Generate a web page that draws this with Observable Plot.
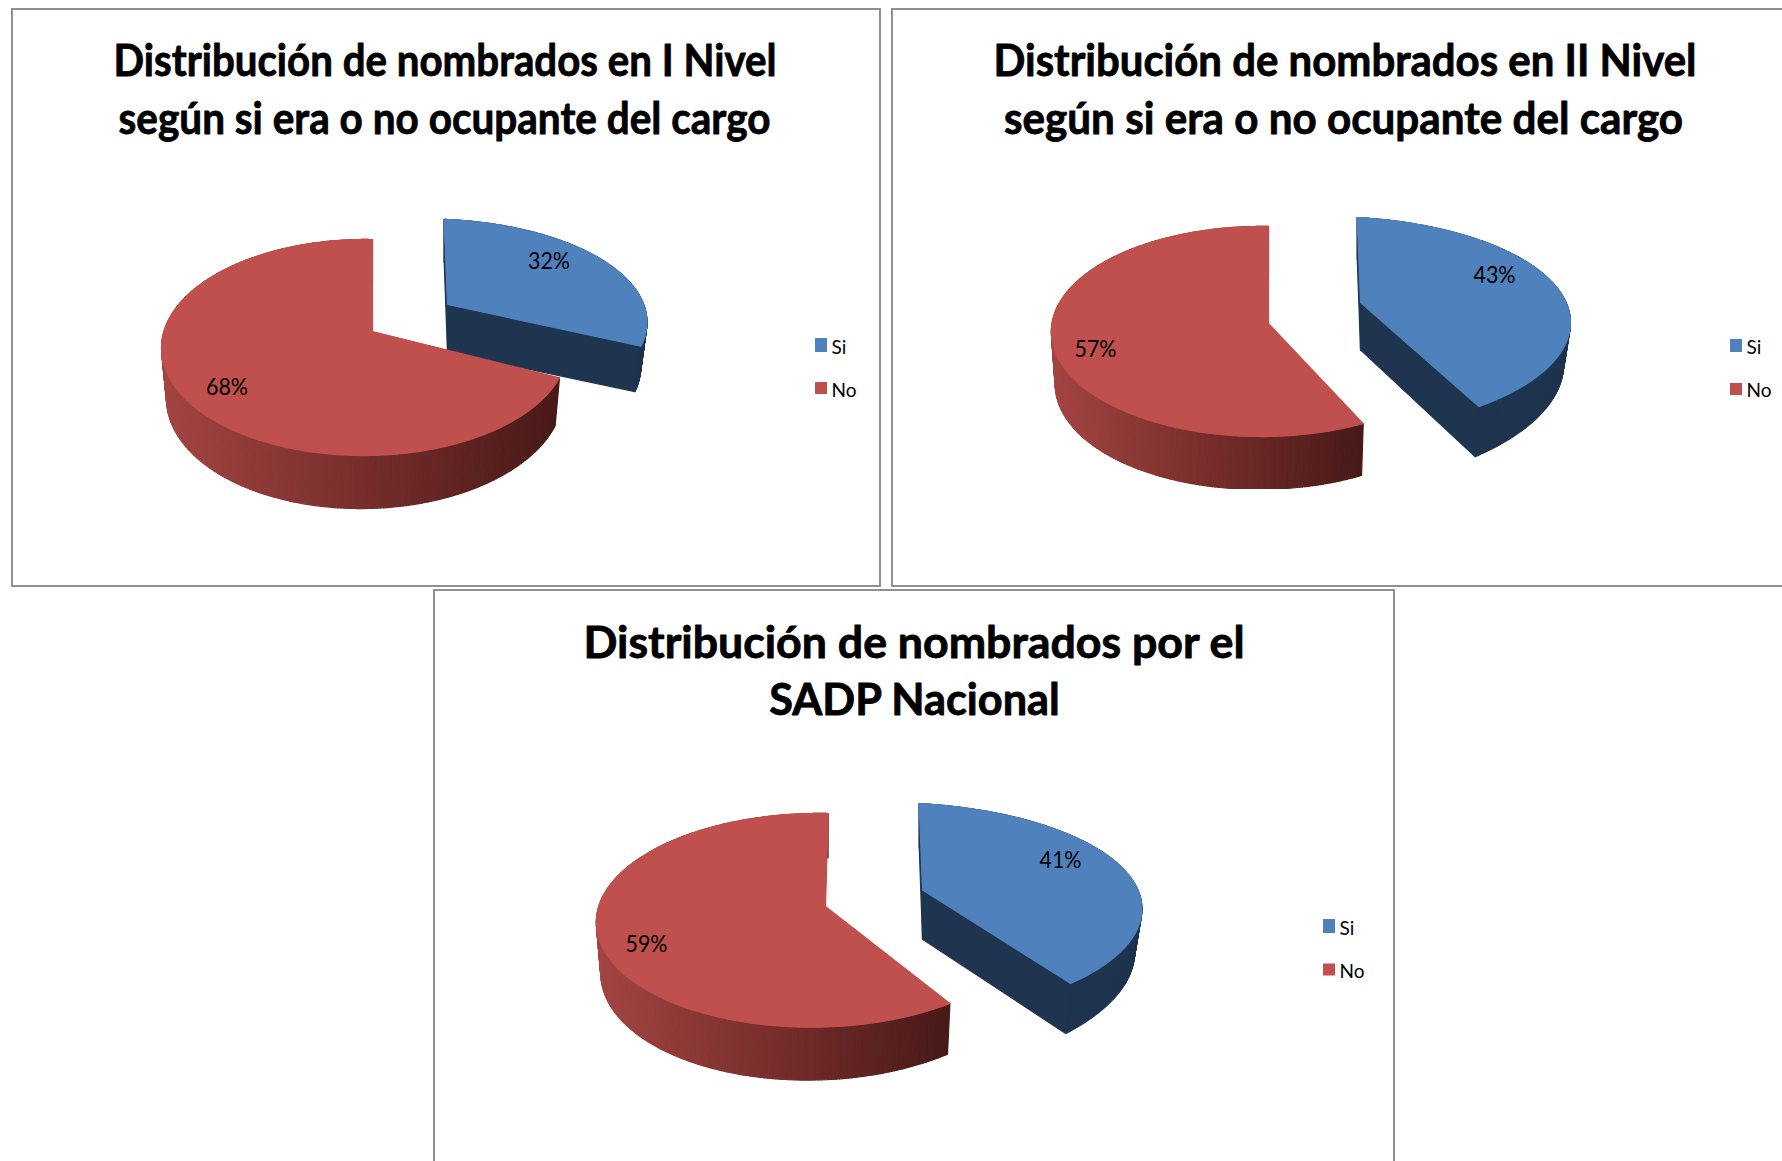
<!DOCTYPE html>
<html lang="es">
<head>
<meta charset="utf-8">
<title>Distribución de nombrados</title>
<script src="https://cdn.jsdelivr.net/npm/d3@7"></script>
<script src="https://cdn.jsdelivr.net/npm/@observablehq/plot@0.6"></script>
<style>
html,body{margin:0;padding:0;background:#fff;width:1782px;height:1161px;overflow:hidden}
.panel{position:absolute}
.panel svg{position:absolute;left:0;top:0;background:#fff}
.edge{position:absolute;inset:0;box-sizing:border-box;border:2px solid #8f8f8f;pointer-events:none}
</style>
</head>
<body>
<script>
// ---- values ----
const categories = ["Si", "No"];
const nivelI = [32, 68];
const nivelII = [43, 57];
const nacional = [41, 59];
const titlesI = ["Distribución de nombrados en I Nivel", "según si era o no ocupante del cargo"];
const titlesII = ["Distribución de nombrados en II Nivel", "según si era o no ocupante del cargo"];
const titlesN = ["Distribución de nombrados por el", "SADP Nacional"];

// ---- colours ----
const faceColors = {Si: "#4f81bd", No: "#c0504d"};
const blueWall = "#1f344f";
const redWall = d3.scaleLinear().domain([0, .5, 1]).range(["#a34542", "#772e2c", "#481a18"]);

// ---- layout: frames, 3D view of each slice, text places (page pixels) ----
const layouts = [
  {values: nivelI, titles: titlesI,
   box: {x: [11, 881], y: [8, 587]}, edge: "",
   titleX: [444.5, 444], titleY: [62, 119.5], titleW: [663, 652],
   view: {
     Si: {ax: 447, ay: 304, R: 215.5, S: 99.6, k: .17, m: .0986, t: .032, D: 49, sx: -4},
     No: {ax: 372, ay: 331, R: 200.7, S: 105.6, k: .148, m: .0377, t: .024, D: 48.7}
   },
   labelX: [548.5, 226.5], labelY: [261, 387],
   legX: 815, legY: [338, 382], legH: [14, 12], legTextY: [347, 390.5]},
  {values: nivelII, titles: titlesII,
   box: {x: [891, 1782], y: [8, 587]}, edge: "border-right:none;",
   titleX: [1344.5, 1343], titleY: [62, 119.5], titleW: [703, 679],
   view: {
     Si: {ax: 1360, ay: 302, R: 238, S: 102, k: .2, m: .158, t: .034, D: 49, sx: -4},
     No: {ax: 1268, ay: 323, R: 210, S: 104.4, k: .076, m: .03, t: .018, D: 51.5, floor: 488}
   },
   labelX: [1494, 1095], labelY: [275, 349],
   legX: 1730, legY: [339, 383], legH: [13, 12], legTextY: [347, 390.5]},
  {values: nacional, titles: titlesN,
   box: {x: [433, 1395], y: [589, 1161]}, edge: "border-bottom:none;",
   titleX: [913.5, 914], titleY: [643.5, 701], titleW: [661, 290.5],
   view: {
     Si: {ax: 922, ay: 889.4, R: 250, S: 102.7, k: .189, m: .161, t: .035, D: 51, sx: -4},
     No: {ax: 825, ay: 906, R: 217, S: 105, k: .129, m: .043, t: .02, D: 49, sx: 3}
   },
   labelX: [1060, 646], labelY: [860, 944],
   legX: 1323, legY: [919, 963.5], legH: [14, 12], legTextY: [928, 971]}
];
const legendBoxW = 12;
const legendTextGap = 16;
const labelW = 42;
const rimSteps = 300;

// ---- one circle point (u right, v away, z down) seen through a slice's view ----
function project(p, u, v, z) {
  const w = (1 + p.k * v + p.m * u) * (1 + p.t * z);
  const y = p.ay + (-p.S * v + p.D * z) / w;
  return [p.ax + (p.R * u + (p.sx || 0) * v) / w, p.floor ? Math.min(y, p.floor) : y];
}

function sliceRows(values) {
  const arcs = d3.pie().sort(null).value(d => d)(values);
  return arcs.map((a, i) => ({
    name: categories[i],
    angles: d3.range(0, rimSteps + 1).map(j => a.startAngle + (a.endAngle - a.startAngle) * j / rimSteps)
  }));
}

function polygon(rows, id, pts, color) {
  pts.forEach(([x, y]) => rows.push({id, x, y, color}));
}

function pieRows(layout) {
  const rows = [];
  // blue first: the red slice lies in front of it
  for (const s of sliceRows(layout.values)) {
    const p = layout.view[s.name];
    const rim = s.angles.map(a => [Math.sin(a), Math.cos(a)]);
    const top = rim.map(([u, v]) => project(p, u, v, 0));
    const low = rim.map(([u, v]) => project(p, u, v, 1));
    const [x0, x1] = d3.extent(top, d => d[0]);
    const apexT = project(p, 0, 0, 0), apexB = project(p, 0, 0, 1);
    if (s.name === "Si") {
      polygon(rows, s.name + "-edge", [apexT, top[rimSteps], low[rimSteps], apexB], blueWall);
      polygon(rows, s.name + "-back", [apexT, top[0], low[0], apexB], blueWall);
    }
    for (let i = 0; i < rimSteps; i++) {
      const c = s.name === "Si" ? blueWall : redWall((top[i][0] - x0) / (x1 - x0));
      polygon(rows, s.name + "-wall" + i, [top[i], top[i + 1], low[i + 1], low[i]], c);
    }
    polygon(rows, s.name + "-face", [apexT, ...top], faceColors[s.name]);
  }
  return rows;
}

function chart(layout) {
  const width = layout.box.x[1] - layout.box.x[0];
  const height = layout.box.y[1] - layout.box.y[0];
  const legend = categories.map((name, i) => ({
    name, x: layout.legX, y: layout.legY[i], h: layout.legH[i], ty: layout.legTextY[i]
  }));
  const labels = layout.values.map((v, i) => ({
    text: v + "%", x: layout.labelX[i], y: layout.labelY[i]
  }));
  const titles = layout.titles.map((text, i) => ({
    text, x: layout.titleX[i], y: layout.titleY[i], w: layout.titleW[i]
  }));
  const svg = Plot.plot({
    width, height, margin: 0,
    x: {domain: layout.box.x, range: [0, width], axis: null},
    y: {domain: layout.box.y, range: [0, height], axis: null},
    color: {type: "identity"},
    style: {background: "#fff"},
    marks: [
      Plot.line(pieRows(layout), {x: "x", y: "y", z: "id", fill: "color", stroke: "color", strokeWidth: 1.2, curve: "linear-closed"}),
      Plot.text(labels, {x: "x", y: "y", text: "text", fontFamily: "Lato", fontSize: 24, fill: "#000", textAnchor: "middle", lineAnchor: "middle", className: "chart-label"}),
      Plot.rect(legend, {x1: "x", x2: d => d.x + legendBoxW, y1: "y", y2: d => d.y + d.h, fill: d => faceColors[d.name]}),
      Plot.text(legend, {x: d => d.x + legendTextGap, y: "ty", text: "name", fontFamily: "Lato", fontSize: 19, fill: "#000", textAnchor: "start", lineAnchor: "middle"}),
      Plot.text(titles, {x: "x", y: "y", text: "text", fontFamily: "Lato", fontWeight: 700, fontSize: 43, fill: "#000", stroke: "#000", strokeWidth: 0.8, textAnchor: "middle", lineAnchor: "middle", className: "chart-title"})
    ]
  });
  // squeeze text to the width it has in the reference
  svg.querySelectorAll(".chart-title text").forEach((node, i) => {
    node.setAttribute("textLength", titles[i].w);
    node.setAttribute("lengthAdjust", "spacingAndGlyphs");
  });
  svg.querySelectorAll(".chart-label text").forEach(node => {
    node.setAttribute("textLength", labelW);
    node.setAttribute("lengthAdjust", "spacingAndGlyphs");
  });
  return svg;
}

for (const layout of layouts) {
  const panel = document.createElement("div");
  panel.className = "panel";
  panel.style.cssText = `left:${layout.box.x[0]}px;top:${layout.box.y[0]}px;width:${layout.box.x[1] - layout.box.x[0]}px;height:${layout.box.y[1] - layout.box.y[0]}px`;
  panel.appendChild(chart(layout));
  const edge = document.createElement("div");
  edge.className = "edge";
  edge.style.cssText = layout.edge;
  panel.appendChild(edge);
  document.body.appendChild(panel);
}
</script>
</body>
</html>
